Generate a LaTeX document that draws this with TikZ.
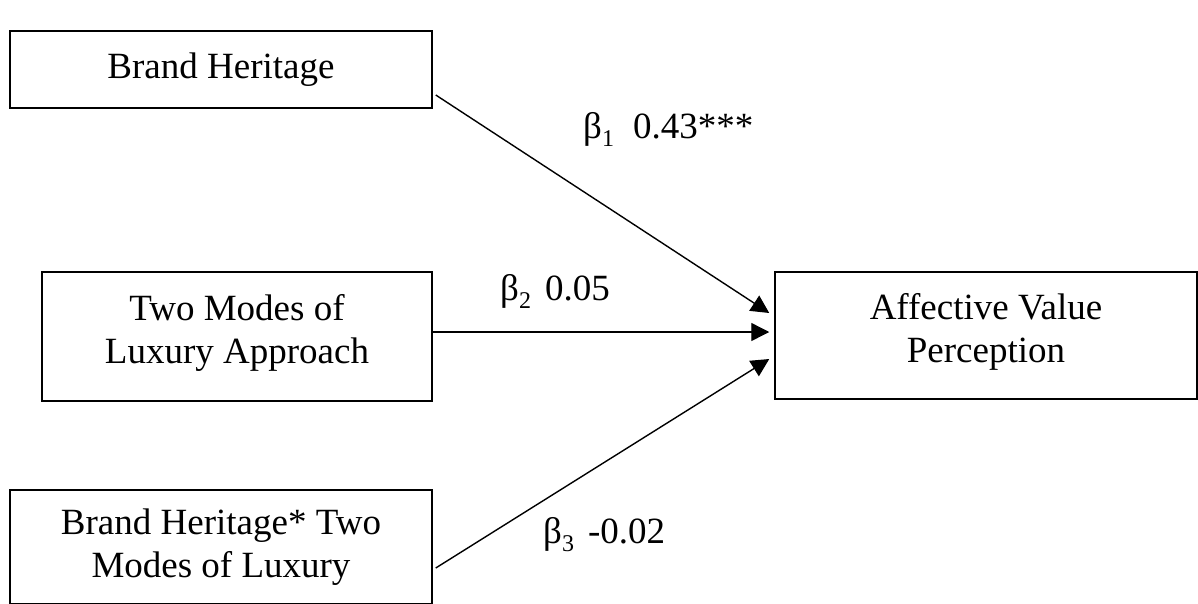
\documentclass[tikz,border=0pt]{standalone}
\usepackage{fontspec}
\setmainfont{Liberation Serif}
\usetikzlibrary{arrows.meta,calc}
% lowered, smaller index after a coefficient symbol
\newcommand\coefsub[1]{\raisebox{-8pt}{\fontsize{24}{24}\selectfont #1}}
\begin{document}
\begin{tikzpicture}[x=1pt,y=-1pt,
  box/.style={draw,line width=1.5pt,inner sep=0pt,align=center,
    font=\fontsize{37}{43}\selectfont},
  effect/.style={line width=1.4pt,-{Triangle[length=18pt,width=18pt]}},
  coef/.style={anchor=base west,inner sep=0pt,font=\fontsize{37}{43}\selectfont}]
\clip (0,0) rectangle (1198,603);
\fill[white] (0,0) rectangle (1198,603);

% variables
\node[box,minimum width=422pt,minimum height=77pt] (heritage) at (221,69.5) {Brand Heritage};
\node[box,minimum width=390pt,minimum height=129pt,text depth=16pt] (modes) at (237,336.5) {Two Modes of\\Luxury Approach};
\node[box,minimum width=422pt,minimum height=114pt] (inter) at (221,547) {Brand Heritage* Two\\Modes of Luxury};
\node[box,minimum width=422pt,minimum height=127pt,text depth=16pt] (affect) at (986,335.5) {Affective Value\\Perception};

% paths into the outcome
\draw[effect] ($(heritage.east)+(3,25.5)$) -- ($(affect.west)+(-5,-22.5)$);
\draw[effect] ($(modes.east)+(0,-4.5)$) -- ($(affect.west)+(-5,-3.5)$);
\draw[effect] ($(inter.east)+(3,21)$) -- ($(affect.west)+(-5,23.5)$);

% path coefficients
\node[coef] (b1) at (583,138) {β\coefsub{1}\hspace{19pt}0.43***};
\node[coef] (b2) at (500,300) {β\coefsub{2}\hspace{14pt}0.05};
\node[coef] (b3) at (543,543) {β\coefsub{3}\hspace{14pt}-0.02};
\end{tikzpicture}
\end{document}
